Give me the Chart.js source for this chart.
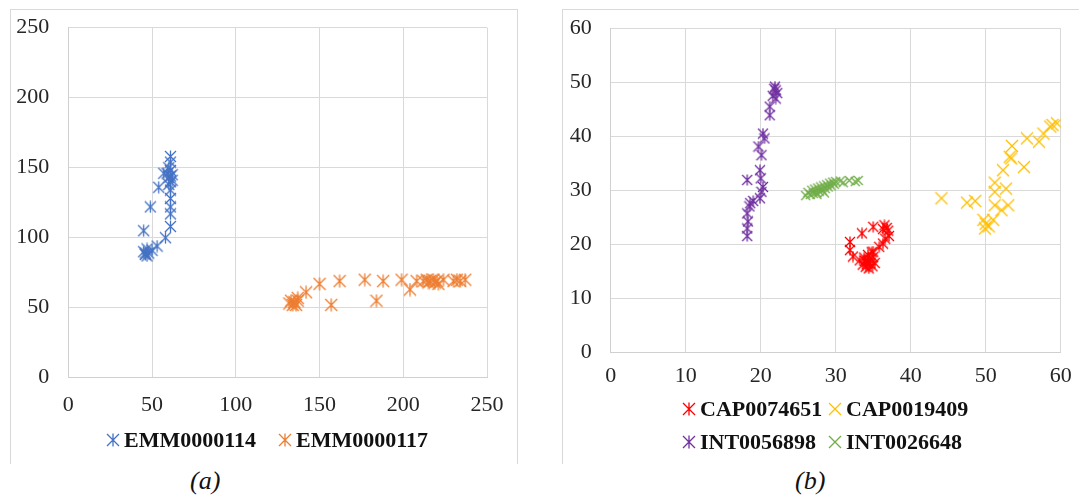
<!DOCTYPE html>
<html>
<head>
<meta charset="utf-8">
<script src="https://cdn.jsdelivr.net/npm/chart.js@4.4.1/dist/chart.umd.min.js"></script>
<style>
  body { margin: 0; background: #fff; width: 1079px; height: 498px; overflow: hidden; position: relative;
         font-family: "Liberation Serif", "Times New Roman", serif; }
  .frame { position: absolute; border: 1px solid #d9d9d9; border-bottom: none; }
  canvas.plot { position: absolute; }
  .legend-item { position: absolute; white-space: nowrap; font-weight: bold; font-size: 22px;
                 line-height: 24px; color: #111; display: flex; align-items: center; }
  .legend-item canvas { margin-right: 4px; }
  .caption { position: absolute; font-style: italic; font-size: 26px; color: #111; }
</style>
</head>
<body>
<div class="frame" style="left:10px; top:9px; width:506px; height:454px;"></div>
<div class="frame" style="left:562px; top:9px; width:530px; height:454px;"></div>
<canvas id="chartA" class="plot" width="507" height="453" style="left:10px; top:9px;"></canvas>
<canvas id="chartB" class="plot" width="517" height="453" style="left:562px; top:9px;"></canvas>
<div id="legendA"></div>
<div id="legendB"></div>
<div class="caption" style="left:190px; top:466px;">(a)</div>
<div class="caption" style="left:795px; top:466px;">(b)</div>

<script>
// ---- panel (a) ----
const ticksA = [0, 50, 100, 150, 200, 250];
const emm0000114 = [
  [46, 88], [47, 87], [45, 90], [47, 92], [46, 89], [48, 89], [45, 105], [49, 122], [50, 91],
  [53, 94], [58, 100], [61, 108], [61, 117], [61, 122], [61, 128], [61, 134], [54, 136],
  [57, 146], [60, 138], [61, 140], [62, 141], [60, 143], [61, 144], [62, 145], [59, 146],
  [61, 148], [60, 150], [61, 154], [61, 158]
];
const emm0000117 = [
  [132, 53], [133, 55], [134, 52], [135, 54], [136, 52], [137, 55], [137, 57], [142, 61],
  [150, 67], [157, 52], [162, 69], [177, 70], [184, 55], [188, 69], [199, 70], [204, 63],
  [208, 69], [212, 69], [214, 70], [215, 68], [216, 69], [218, 70], [219, 68], [220, 69],
  [221, 67], [224, 70], [230, 69], [232, 70], [234, 69], [237, 70]
];

// ---- panel (b) ----
const ticksB = [0, 10, 20, 30, 40, 50, 60];
const cap0074651 = [
  [31.9, 20.4], [31.9, 18.9], [32.3, 17.7], [33.5, 22.0], [33.2, 17.0], [33.6, 16.2], [33.8, 17.5],
  [34.0, 15.8], [34.1, 16.8], [34.3, 18.0], [34.4, 15.5], [34.5, 17.2], [34.6, 16.4], [34.8, 18.5],
  [34.9, 15.9], [35.0, 17.6], [35.2, 16.5], [35.0, 18.6], [35.0, 23.2], [35.8, 19.5], [36.3, 20.1],
  [36.3, 22.8], [36.5, 23.5], [36.8, 23.0], [37.0, 22.5], [37.1, 21.5], [36.6, 21.0], [34.2, 16.3],
  [33.9, 16.9]
];
const cap0019409 = [
  [44.1, 28.5], [47.5, 27.7], [48.6, 28.0], [49.9, 22.9], [50.0, 23.8], [49.7, 24.5], [50.4, 23.3],
  [51.0, 24.5], [51.2, 27.2], [52.1, 26.3], [53.0, 27.2], [51.2, 29.7], [51.2, 31.4], [52.7, 30.3],
  [52.3, 33.7], [53.2, 36.2], [53.4, 35.9], [53.5, 38.2], [55.1, 34.3], [55.5, 39.6], [57.1, 39.0],
  [57.7, 40.5], [58.6, 41.8], [58.9, 42.1], [59.5, 42.4]
];
const int0056898 = [
  [18.2, 21.5], [18.2, 22.9], [18.3, 24.2], [18.2, 25.7], [18.5, 27.0], [19.0, 28.0], [18.6, 27.6],
  [18.2, 31.9], [19.9, 28.5], [20.1, 29.7], [20.3, 30.6], [20.0, 32.2], [19.9, 33.7], [20.1, 36.5],
  [19.7, 38.1], [20.5, 39.6], [20.3, 40.5], [21.2, 43.9], [21.2, 45.5], [21.6, 47.5], [21.8, 48.8],
  [22.0, 48.5], [22.2, 48.0], [21.9, 49.2], [22.0, 47.0]
];
const int0026648 = [
  [26.0, 29.0], [26.3, 29.6], [26.6, 29.2], [26.8, 30.0], [27.0, 29.4], [27.2, 30.2], [27.4, 29.6],
  [27.6, 30.4], [27.8, 29.8], [28.0, 30.6], [28.2, 30.0], [28.4, 30.8], [28.6, 30.3], [28.8, 31.0],
  [29.0, 30.6], [29.2, 31.3], [29.4, 30.8], [29.6, 31.5], [29.8, 31.1], [30.0, 31.6], [30.6, 31.7],
  [31.0, 31.4], [31.8, 31.8], [32.6, 31.6], [33.0, 31.8], [28.5, 29.5], [27.5, 29.2]
];

// asterisk (X + vertical bar) or plain X marker, drawn once into a small canvas
function makeMarker(color, size, bar) {
  const c = document.createElement('canvas');
  c.width = size + 2;
  c.height = size + 2;
  const g = c.getContext('2d');
  const a = 1, b = size + 1, mid = c.width / 2;
  g.strokeStyle = color;
  g.lineWidth = 1.3;
  g.beginPath();
  g.moveTo(a, a); g.lineTo(b, b);
  g.moveTo(b, a); g.lineTo(a, b);
  if (bar) { g.moveTo(mid, a - 0.5); g.lineTo(mid, b + 0.5); }
  g.stroke();
  return c;
}

const toPoints = arr => arr.map(p => ({ x: p[0], y: p[1] }));

const series = {
  a: [
    { label: 'EMM0000114', data: emm0000114, color: '#4472C4', size: 11, bar: true },
    { label: 'EMM0000117', data: emm0000117, color: '#ED7D31', size: 12, bar: true }
  ],
  b: [
    { label: 'CAP0074651', data: cap0074651, color: '#FF0000', size: 10, bar: true },
    { label: 'CAP0019409', data: cap0019409, color: '#FFC000', size: 12, bar: false },
    { label: 'INT0056898', data: int0056898, color: '#7030A0', size: 10, bar: true },
    { label: 'INT0026648', data: int0026648, color: '#70AD47', size: 9, bar: false }
  ]
};

function buildChart(id, list, ticks, box) {
  const tickFont = { family: '"Liberation Serif", "Times New Roman", serif', size: 22 };
  const axis = (isY) => ({
    type: 'linear',
    min: ticks[0],
    max: ticks[ticks.length - 1],
    ticks: { stepSize: ticks[1] - ticks[0], color: '#262626', font: tickFont, padding: isY ? 19 : box.xPad },
    grid: { color: '#d9d9d9', lineWidth: 1, drawTicks: false },
    border: { color: '#d0d0d0' },
    afterFit: (scale) => {
      if (isY) scale.width = box.yWidth; else scale.height = box.xHeight;
      scale.paddingLeft = 0; scale.paddingRight = 0;
      scale.paddingTop = 0; scale.paddingBottom = 0;
    }
  });
  return new Chart(document.getElementById(id), {
    type: 'scatter',
    data: {
      datasets: list.map(s => ({
        label: s.label,
        data: toPoints(s.data),
        pointStyle: makeMarker(s.color, s.size, s.bar),
        pointRadius: 6,
        borderColor: s.color,
        backgroundColor: s.color
      }))
    },
    options: {
      responsive: false,
      animation: false,
      layout: { padding: { left: 0, top: box.top, right: box.right, bottom: 0 } },
      plugins: { legend: { display: false }, tooltip: { enabled: false } },
      scales: { x: axis(false), y: axis(true) }
    }
  });
}

buildChart('chartA', series.a, ticksA, { yWidth: 58.3, xHeight: 84.3, top: 18.7, right: 30, xPad: 14 });
buildChart('chartB', series.b, ticksB, { yWidth: 48.7, xHeight: 110, top: 19.4, right: 18.3, xPad: 11.5 });

// legends below each panel
function addLegend(holder, list, spots) {
  const el = document.getElementById(holder);
  list.forEach((s, i) => {
    const item = document.createElement('div');
    item.className = 'legend-item';
    item.style.left = spots[i][0] + 'px';
    item.style.top = spots[i][1] + 'px';
    item.appendChild(makeMarker(s.color, 12, s.bar));
    const txt = document.createElement('span');
    txt.textContent = s.label;
    item.appendChild(txt);
    el.appendChild(item);
  });
}
addLegend('legendA', series.a, [[106, 428], [278, 428]]);
addLegend('legendB', series.b, [[682, 397], [828, 397], [682, 430], [828, 430]]);
</script>
</body>
</html>
